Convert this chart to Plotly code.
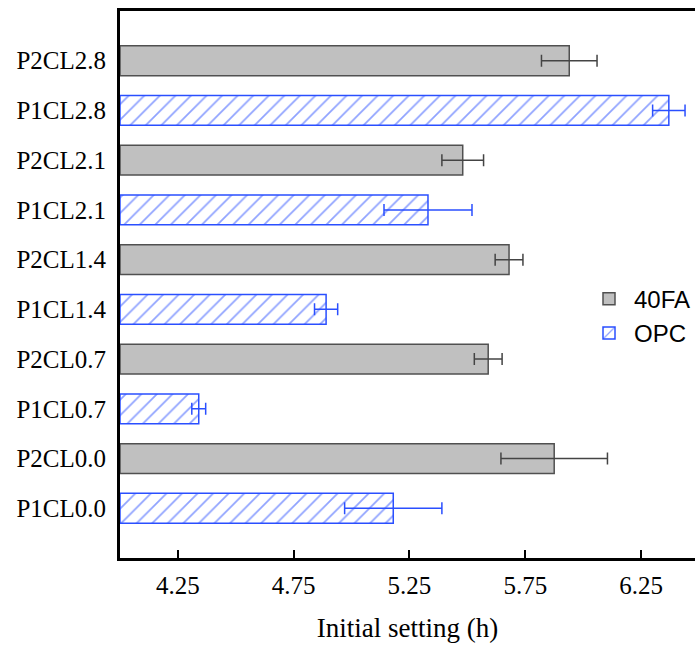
import plotly.graph_objects as go

fa_cats = ["P2CL0.0", "P2CL0.7", "P2CL1.4", "P2CL2.1", "P2CL2.8"]
fa_vals = [5.875, 5.59, 5.68, 5.48, 5.94]
fa_err = [0.23, 0.06, 0.06, 0.09, 0.12]

opc_cats = ["P1CL0.0", "P1CL0.7", "P1CL1.4", "P1CL2.1", "P1CL2.8"]
opc_vals = [5.18, 4.34, 4.89, 5.33, 6.37]
opc_err = [0.21, 0.03, 0.05, 0.19, 0.07]

order = ["P1CL0.0", "P2CL0.0", "P1CL0.7", "P2CL0.7", "P1CL1.4",
         "P2CL1.4", "P1CL2.1", "P2CL2.1", "P1CL2.8", "P2CL2.8"]
xticks = [4.25, 4.75, 5.25, 5.75, 6.25]
base = 4.0

fig = go.Figure()
fig.add_trace(go.Bar(
    name="40FA", y=fa_cats, x=[v - base for v in fa_vals], base=base,
    orientation="h", width=0.6,
    marker=dict(color="#c0c0c0", line=dict(color="#505050", width=1.5)),
    error_x=dict(type="data", array=fa_err, color="#444444", thickness=1.5, width=6),
))
fig.add_trace(go.Bar(
    name="OPC", y=opc_cats, x=[v - base for v in opc_vals], base=base,
    orientation="h", width=0.6,
    marker=dict(color="white", line=dict(color="#2a4fff", width=1.5),
                pattern=dict(shape="/", fgcolor="#1f45ff", bgcolor="white",
                             size=11, solidity=0.16)),
    error_x=dict(type="data", array=opc_err, color="#2a4fff", thickness=1.5, width=6),
))

fig.update_layout(
    width=696, height=645, barmode="overlay",
    margin=dict(l=120, r=0, t=11, b=87),
    plot_bgcolor="white", paper_bgcolor="white",
    font=dict(family="Liberation Serif", size=25, color="black"),
    legend=dict(x=0.807, y=0.442, xanchor="left", yanchor="middle",
                font=dict(family="Liberation Sans", size=24, color="black"),
                bgcolor="rgba(0,0,0,0)", itemwidth=40),
    xaxis=dict(range=[4.0, 6.483], tickvals=xticks, ticktext=[f"{t:.2f}" for t in xticks],
               ticks="inside", ticklen=8, tickwidth=2, tickcolor="black",
               showline=True, linewidth=3, linecolor="black", mirror=True,
               showgrid=False, zeroline=False, ticklabelstandoff=3,
               title=dict(text="Initial setting (h)", font=dict(size=27), standoff=21)),
    yaxis=dict(categoryorder="array", categoryarray=order, range=[-1, 10],
               showline=True, linewidth=3, linecolor="black", ticks="",
               showgrid=False, zeroline=False, ticklabelstandoff=6),
)
fig.write_html("out.html", config={"displayModeBar": False},
               post_script="document.body.style.margin='0';document.body.style.overflow='hidden';")
